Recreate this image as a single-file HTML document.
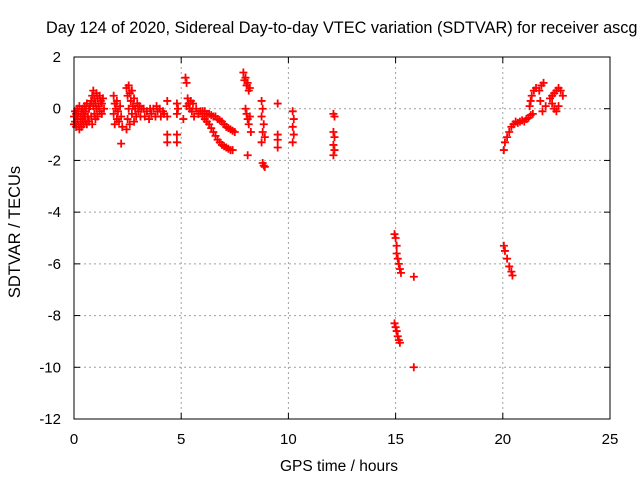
<!DOCTYPE html>
<html><head><meta charset="utf-8"><style>
html,body{margin:0;padding:0;background:#fff;overflow:hidden;}
svg{display:block;font-family:"Liberation Sans",sans-serif;}
</style></head><body>
<svg id="chart" width="640" height="480" viewBox="0 0 640 480" xmlns="http://www.w3.org/2000/svg">
<rect width="640" height="480" fill="#fff"/>
<text x="46" y="33" font-size="16.3" fill="#000">Day 124 of 2020, Sidereal Day-to-day VTEC variation (SDTVAR) for receiver ascg</text>
<g id="grid"></g>
<g id="axes"></g>
<g id="points"></g>
<rect x="74" y="57" width="536" height="362" fill="none" stroke="#000" stroke-width="1"/>
<text x="339" y="471" font-size="15.5" text-anchor="middle">GPS time / hours</text>
<text transform="translate(20,232) rotate(-90)" font-size="16.5" text-anchor="middle">SDTVAR / TECUs</text>
</svg>
<script>
const xTicks=[0,5,10,15,20,25];
const yTicks=[2,0,-2,-4,-6,-8,-10,-12];
const gpsHours=[0,0,0.05,0.05,0.1,0.1,0.15,0.15,0.2,0.2,0.25,0.25,0.3,0.3,0.35,0.35,0.4,0.4,0.45,0.45,0.5,0.5,0.55,0.55,0.6,0.6,0.65,0.7,0.7,0.75,
0.8,0.8,0.85,0.85,0.9,0.9,0.95,0.95,1,1,1.05,1.05,1.1,1.1,1.15,1.2,1.2,1.25,1.3,1.3,1.35,1.4,
1.85,1.85,1.9,1.9,1.95,2,2,2.05,2.1,2.15,2.2,2.25,2.2,
2.45,2.45,2.5,2.5,2.55,2.55,2.6,2.6,2.65,2.7,2.7,2.75,2.8,2.8,2.85,2.9,2.95,3,3.05,3.1,3.15,
3.25,3.3,3.4,3.5,3.55,3.6,3.7,3.8,3.85,3.9,4,4.05,4.15,4.2,
4.35,4.35,4.35,4.35,4.8,4.8,4.8,4.8,4.85,
5.2,5.25,5.1,5.25,
5.3,5.35,5.4,5.45,5.5,5.55,5.6,5.7,5.8,5.9,6,6.1,6.2,6.3,6.4,6.5,6.6,6.7,6.8,6.9,7,7.1,7.2,7.3,7.4,
6.0,6.1,6.2,6.3,6.4,6.5,6.6,6.7,6.8,6.9,7.0,7.1,7.2,7.3,7.4,7.5,
7.9,7.95,8.0,8.05,8.1,8.15,8.2,8.0,8.05,8.1,8.15,8.2,8.25,8.1,
8.75,8.8,8.75,8.85,8.8,8.9,8.75,8.8,8.85,8.9,
9.5,9.5,9.5,9.5,
10.2,10.25,10.2,10.25,10.2,
12.1,12.15,12.1,12.15,12.1,12.15,12.1,
14.95,15,15.05,15.05,15.1,15.15,15.2,15.25,15.85,
14.95,15,15.05,15.1,15.15,15.2,15.85,
20.05,20.1,20.2,20.3,20.4,20.45,
20.05,20.1,20.2,20.3,20.4,20.5,20.6,20.7,20.8,20.9,21,21.1,21.2,21.3,21.4,
21.25,21.3,21.35,21.45,21.55,
21.7,21.8,21.9,21.75,21.85,22.0,
22.2,22.3,22.4,22.5,22.6,22.7,22.4,22.5,22.6,22.3,22.8];
const sdtvar=[-0.3,-0.6,-0.1,-0.5,-0.7,-0.2,0,-0.4,-0.6,-0.2,-0.8,0.1,-0.3,-0.5,-0.1,-0.7,0,-0.4,-0.6,-0.2,0.1,-0.3,-0.5,-0.1,0.2,-0.6,-0.3,0,-0.5,0.1,
0.3,-0.3,0.5,-0.6,0.1,0.7,-0.2,0.4,0.2,-0.4,0.6,0,0.4,-0.3,0.1,0.5,-0.1,0.3,0.2,-0.2,0.4,0,
0.5,-0.2,0.2,-0.6,0,-0.4,0.3,-0.1,-0.5,0.1,-0.3,-0.7,-1.35,
0.8,-0.8,0.5,-0.4,0.9,0,0.6,-0.6,0.3,-0.2,0.7,0.1,-0.5,0.4,0,-0.3,0.2,-0.1,0.1,-0.3,0,
0,-0.3,-0.1,-0.4,0,-0.2,0,-0.3,0.1,-0.1,0,-0.3,-0.1,-0.2,
0.3,-0.3,-1.0,-1.3,0.2,-0.2,-1.0,-1.3,0,
1.2,1.0,-0.4,0.1,
0.4,0.2,0,0.3,-0.1,0.2,-0.3,0,-0.2,-0.1,-0.3,-0.4,-0.5,-0.6,-0.75,-0.9,-1.05,-1.2,-1.3,-1.4,-1.45,-1.5,-1.55,-1.6,-1.6,
-0.1,-0.1,-0.2,-0.2,-0.25,-0.3,-0.3,-0.4,-0.45,-0.5,-0.6,-0.7,-0.75,-0.8,-0.85,-0.9,
1.4,1.1,1.2,0.9,1.0,0.7,0.8,0,-0.2,-0.4,-0.6,-0.3,-0.9,-1.8,
0.3,0,-0.3,-0.6,-0.9,-1.1,-1.3,-2.1,-2.2,-2.25,
0.2,-1.0,-1.2,-1.5,
-0.1,-0.4,-0.7,-1.0,-1.3,
-0.2,-0.3,-0.9,-1.1,-1.4,-1.6,-1.8,
-4.85,-5.0,-5.3,-5.6,-5.8,-6.0,-6.2,-6.35,-6.5,
-8.3,-8.45,-8.6,-8.8,-8.95,-9.05,-10,
-5.3,-5.5,-5.8,-6.1,-6.3,-6.45,
-1.6,-1.3,-1.1,-0.9,-0.7,-0.6,-0.5,-0.55,-0.5,-0.45,-0.5,-0.4,-0.35,-0.25,-0.2,
0.1,0.3,0.5,0.7,0.8,
0.7,0.9,1.0,0.3,-0.1,0.1,
0.4,0.5,0.6,0.7,0.8,0.7,0,-0.1,0.1,0.2,0.5];

const L=74,R=610,T=57,B=419,X0=0,X1=25,Y0=-12,Y1=2;
function sx(v){return L+(v-X0)/(X1-X0)*(R-L);}
function sy(v){return B-(v-Y0)/(Y1-Y0)*(B-T);}
const NS="http://www.w3.org/2000/svg";
function mk(tag,attrs,parent){const e=document.createElementNS(NS,tag);for(const k in attrs)e.setAttribute(k,attrs[k]);parent.appendChild(e);return e;}
const grid=document.getElementById('grid'),axes=document.getElementById('axes'),pts=document.getElementById('points');
xTicks.forEach(t=>{
  const x=sx(t);
  if(t>X0&&t<X1){const g=mk('line',{x1:x,y1:T,x2:x,y2:B,stroke:'#a0a0a0','stroke-dasharray':'2,3'},grid);
  
  }
  mk('line',{x1:x,y1:B,x2:x,y2:B-6,stroke:'#000'},axes);
  mk('line',{x1:x,y1:T,x2:x,y2:T+6,stroke:'#000'},axes);
  const lb=mk('text',{x:x,y:B+25,'font-size':'15','text-anchor':'middle'},axes);
  lb.textContent=t;
  
  
});
yTicks.forEach(t=>{
  const y=sy(t);
  if(t>Y0&&t<Y1){const g=mk('line',{x1:L,y1:y,x2:R,y2:y,stroke:'#a0a0a0','stroke-dasharray':'2,3'},grid);
  
  }
  mk('line',{x1:L,y1:y,x2:L+6,y2:y,stroke:'#000'},axes);
  mk('line',{x1:R,y1:y,x2:R-6,y2:y,stroke:'#000'},axes);
  const lb=mk('text',{x:L-13,y:y+5,'font-size':'15','text-anchor':'end'},axes);
  lb.textContent=t;
  
  
});
for(let i=0;i<gpsHours.length;i++){
  const x=sx(gpsHours[i]),y=sy(sdtvar[i]);
  const p=mk('path',{d:`M${x-4},${y}h8M${x},${y-4}v8`,stroke:'#f00','stroke-width':'1.8',fill:'none'},pts);
  
  
}
</script>
</body></html>
